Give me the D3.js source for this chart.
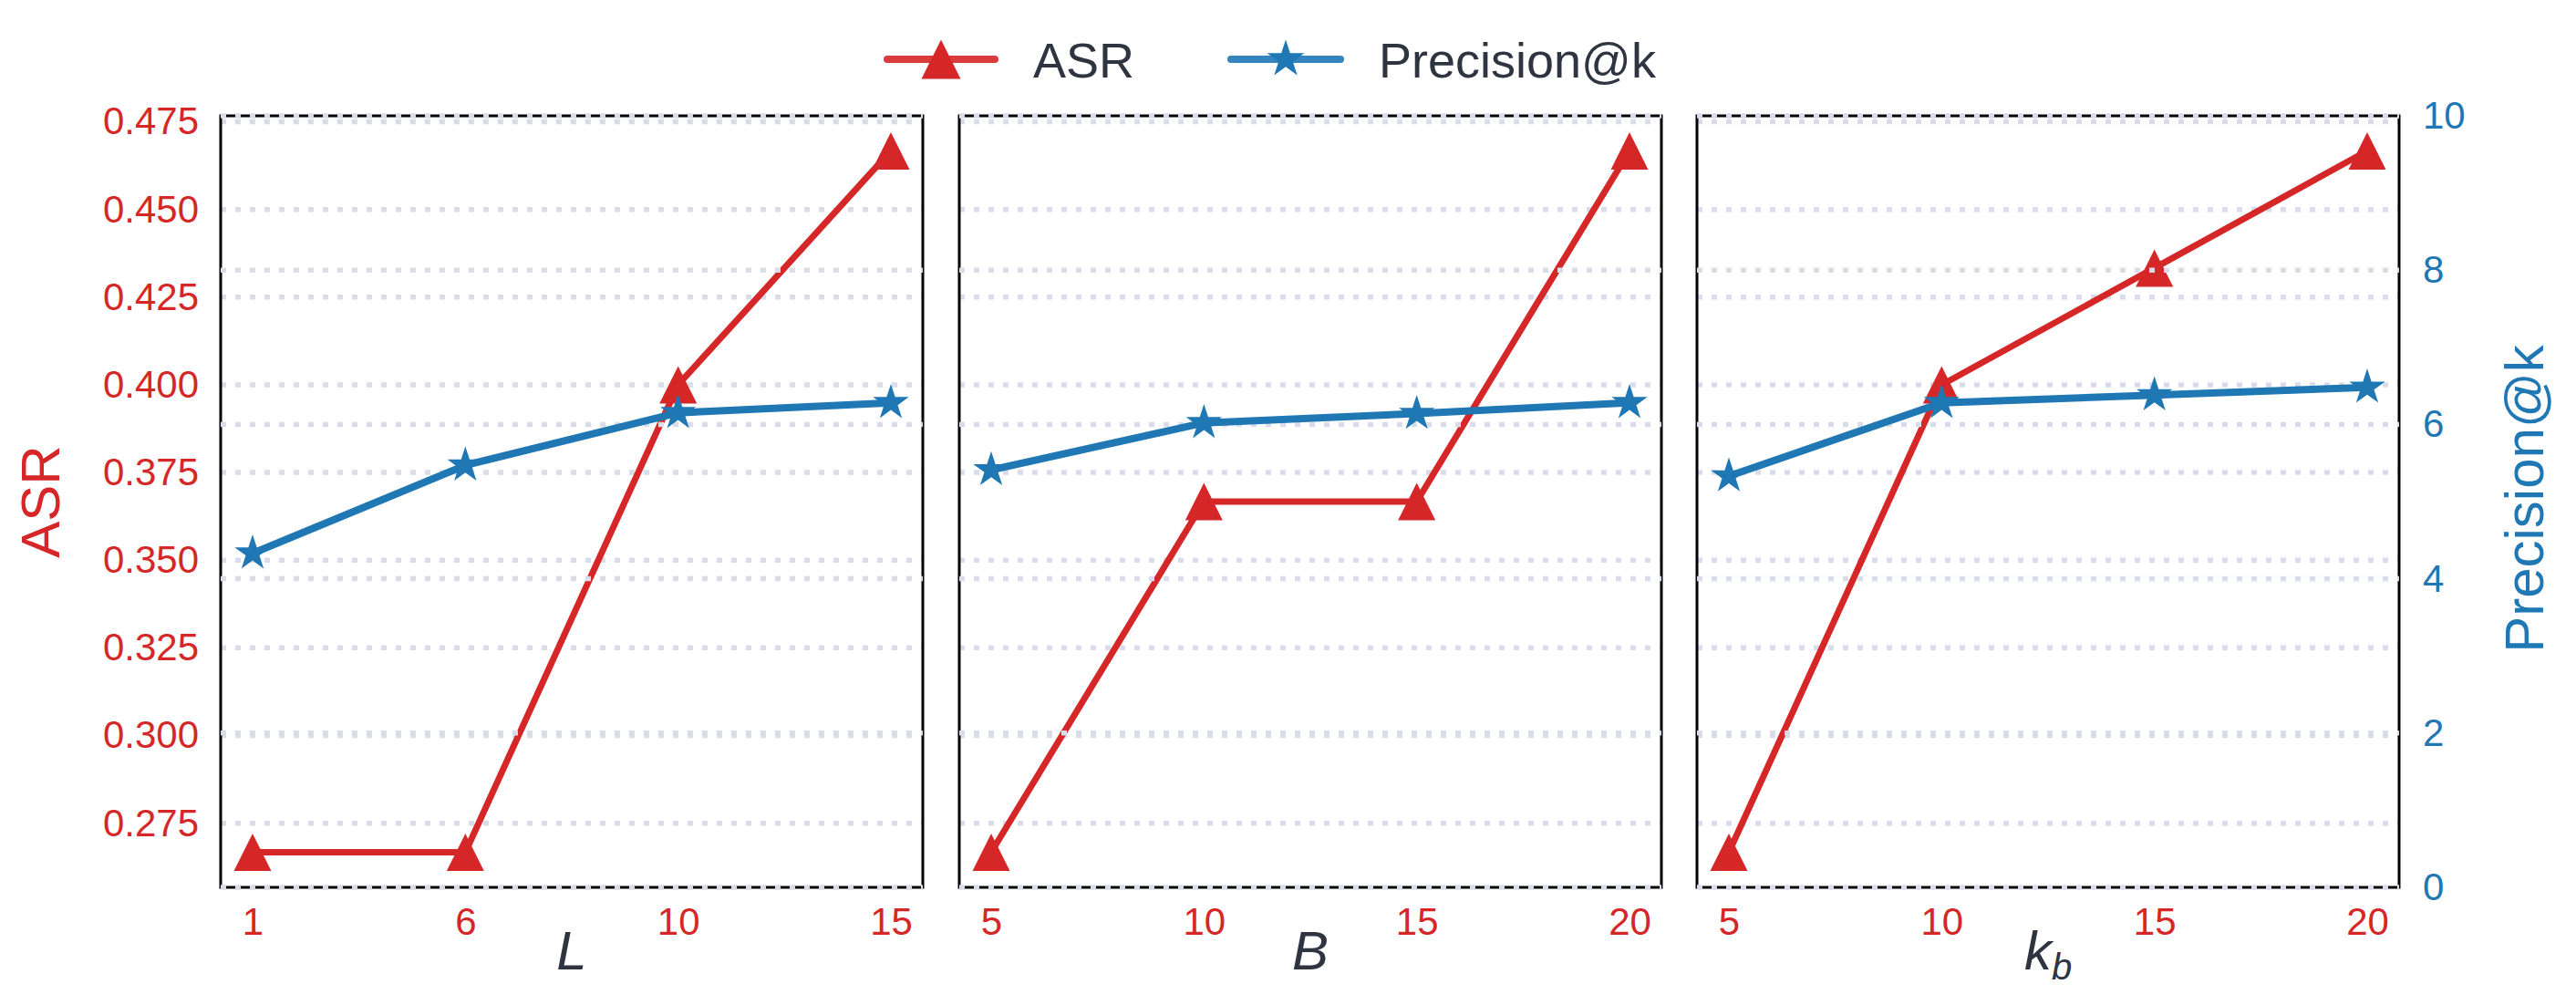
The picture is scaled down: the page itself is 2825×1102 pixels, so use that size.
<!DOCTYPE html>
<html>
<head>
<meta charset="utf-8">
<script src="https://cdn.jsdelivr.net/npm/d3@7/dist/d3.min.js"></script>
<style>
  body { margin: 0; background: #fff; }
  svg text { font-family: "Liberation Sans", Arial, Helvetica, sans-serif; }
</style>
</head>
<body>
<svg id="chart" width="2825" height="1102"></svg>
<script>
// panel x-axis names and tick labels
const panelLabels = ["L", "B", "k_b"];
const xTickLabels = [
    ["1", "6", "10", "15"],
    ["5", "10", "15", "20"],
    ["5", "10", "15", "20"]
];
// ASR series (left axis)
const asrL = [0.2667, 0.2667, 0.4, 0.4667];
const asrB = [0.2667, 0.3667, 0.3667, 0.4667];
const asrK = [0.2667, 0.4, 0.4333, 0.4667];
// Precision@k series (right axis)
const precL = [4.33, 5.47, 6.15, 6.28];
const precB = [5.41, 6.02, 6.14, 6.28];
const precK = [5.33, 6.28, 6.38, 6.48];
// axis ticks
const asrTicks = [0.275, 0.3, 0.325, 0.35, 0.375, 0.4, 0.425, 0.45, 0.475];
const precTicks = [0, 2, 4, 6, 8, 10];

const asrSeries = [asrL, asrB, asrK];
const precSeries = [precL, precB, precK];

const RED = "#d62728", BLUE = "#1f77b4", TXT = "#2e3440", GRID = "#d8dde9";

const svg = d3.select("#chart");
const margin = { top: 127, bottom: 973 };
const panelLeft = [242, 1052, 1861];
const panelW = 770;

// Shared y scales
const yAsr = d3.scaleLinear().domain([0.2567, 0.4767]).range([margin.bottom, margin.top]);
const yPrec = d3.scaleLinear().domain([0, 10]).range([margin.bottom, margin.top]);

// matplotlib style '^' marker: bbox centred, width == height
const triangle = s => `M0,${-s / 2}L${s / 2},${s / 2}L${-s / 2},${s / 2}Z`;
const star = d3.symbol(d3.symbolStar, 480);

function gridLines(g, x, scale, ticks) {
    g.selectAll(null)
        .data(ticks)
        .enter()
        .append('line')
            .attr('x1', x.range()[0])
            .attr('x2', x.range()[1])
            .attr('y1', d => scale(d))
            .attr('y2', d => scale(d))
            .attr('stroke', GRID)
            .attr('stroke-width', 5.5)
            .attr('stroke-dasharray', '6 10');
}

function styleAxis(g, color) {
    g.select('.domain').remove();
    g.attr('font-size', 42).attr('font-family', null);
    g.selectAll('text').attr('fill', color);
}

panelLeft.forEach((left, p) => {
    const asr = asrSeries[p], prec = precSeries[p];
    const x = d3.scaleLinear().domain([-0.15, 3.15]).range([left, left + panelW]);
    const idx = d3.range(asr.length);
    const g = svg.append('g');

    // ASR grid below the red line
    gridLines(g, x, yAsr, asrTicks);

    // ASR line
    const lineA = d3.line().x((d, i) => x(i)).y(d => yAsr(d));
    g.append('path')
        .datum(asr)
        .attr('d', lineA)
        .attr('fill', 'none')
        .attr('stroke', RED)
        .attr('stroke-width', 7)
        .attr('stroke-linejoin', 'round');
    g.selectAll(null)
        .data(asr)
        .enter()
        .append('path')
            .attr('d', triangle(41))
            .attr('transform', (d, i) => `translate(${x(i)},${yAsr(d)})`)
            .attr('fill', RED);

    // frame
    g.append('rect')
        .attr('x', left)
        .attr('y', margin.top)
        .attr('width', panelW)
        .attr('height', margin.bottom - margin.top)
        .attr('fill', 'none')
        .attr('stroke', '#000')
        .attr('stroke-width', 3);

    // Precision grid drawn over the red series and frame
    gridLines(g, x, yPrec, precTicks);

    // Precision line
    const lineP = d3.line().x((d, i) => x(i)).y(d => yPrec(d));
    g.append('path')
        .datum(prec)
        .attr('d', lineP)
        .attr('fill', 'none')
        .attr('stroke', BLUE)
        .attr('stroke-width', 8)
        .attr('stroke-linejoin', 'round');
    g.selectAll(null)
        .data(prec)
        .enter()
        .append('path')
            .attr('d', star)
            .attr('transform', (d, i) => `translate(${x(i)},${yPrec(d)})`)
            .attr('fill', BLUE);

    // x axis
    const xAxis = d3.axisBottom(x)
        .tickValues(idx)
        .tickFormat(i => xTickLabels[p][i])
        .tickSize(0)
        .tickPadding(22);
    const xg = svg.append('g')
        .attr('transform', `translate(0,${margin.bottom})`)
        .call(xAxis);
    styleAxis(xg, RED);

    // x label
    const lbl = svg.append('text')
        .attr('x', left + panelW / 2)
        .attr('y', 1063)
        .attr('text-anchor', 'middle')
        .attr('font-size', 60)
        .attr('font-style', 'italic')
        .attr('fill', TXT);
    const parts = panelLabels[p].split('_');
    lbl.append('tspan').text(parts[0]);
    if (parts[1]) {
        lbl.append('tspan')
            .attr('font-size', 40)
            .attr('dy', 11)
            .text(parts[1]);
    }

    if (p === 0) {
        const yAxis = d3.axisLeft(yAsr)
            .tickValues(asrTicks)
            .tickFormat(d3.format('.3f'))
            .tickSize(0)
            .tickPadding(24);
        const yg = svg.append('g')
            .attr('transform', `translate(${left},0)`)
            .call(yAxis);
        styleAxis(yg, RED);
    }
    if (p === panelLeft.length - 1) {
        const yAxisR = d3.axisRight(yPrec)
            .tickValues(precTicks)
            .tickFormat(d3.format('d'))
            .tickSize(0)
            .tickPadding(26);
        const yg = svg.append('g')
            .attr('transform', `translate(${left + panelW},0)`)
            .call(yAxisR);
        styleAxis(yg, BLUE);
    }
});

// y axis titles
svg.append('text')
    .attr('transform', 'translate(65,550) rotate(-90)')
    .attr('text-anchor', 'middle')
    .attr('font-size', 60)
    .attr('fill', RED)
    .text('ASR');
svg.append('text')
    .attr('transform', 'translate(2789,547) rotate(-90)')
    .attr('text-anchor', 'middle')
    .attr('font-size', 60)
    .attr('fill', BLUE)
    .text('Precision@k');

// legend
const legend = svg.append('g');
const legendItems = [
    { name: 'ASR', color: RED, x1: 973, x2: 1091, tx: 1133, marker: triangle(43) },
    { name: 'Precision@k', color: BLUE, x1: 1350, x2: 1470, tx: 1512, marker: d3.symbol(d3.symbolStar, 520)() }
];
legendItems.forEach(item => {
    legend.append('line')
        .attr('x1', item.x1).attr('x2', item.x2)
        .attr('y1', 65).attr('y2', 65)
        .attr('stroke', item.color)
        .attr('stroke-opacity', 0.9)
        .attr('stroke-width', 8)
        .attr('stroke-linecap', 'round');
    legend.append('path')
        .attr('d', item.marker)
        .attr('transform', `translate(${(item.x1 + item.x2) / 2},65)`)
        .attr('fill', item.color);
    legend.append('text')
        .attr('x', item.tx)
        .attr('y', 85)
        .attr('font-size', 54)
        .attr('fill', TXT)
        .text(item.name);
});
</script>
</body>
</html>
